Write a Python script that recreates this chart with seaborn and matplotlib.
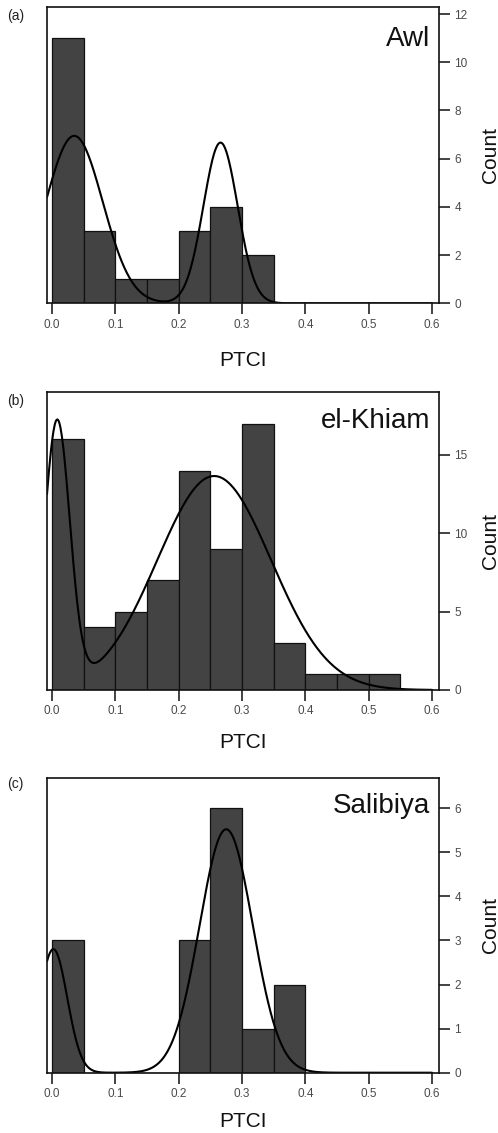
import numpy as np
import pandas as pd
import matplotlib
matplotlib.use("Agg")
import matplotlib.pyplot as plt
import seaborn as sns

# ---------------- data ----------------
sites = ["Awl", "el-Khiam", "Salibiya"]
panel_labels = ["(a)", "(b)", "(c)"]
bin_width = 0.05
bin_edges_awl = [0.00, 0.05, 0.10, 0.15, 0.20, 0.25, 0.30, 0.35]
bin_edges_khiam = [0.00, 0.05, 0.10, 0.15, 0.20, 0.25, 0.30, 0.35, 0.40, 0.45, 0.50, 0.55]
bin_edges_salibiya = [0.00, 0.05, 0.10, 0.15, 0.20, 0.25, 0.30, 0.35, 0.40]
counts_awl = [11, 3, 1, 1, 3, 4, 2]
counts_khiam = [16, 4, 5, 7, 14, 9, 17, 3, 1, 1, 1]
counts_salibiya = [3, 0, 0, 0, 3, 6, 1, 2]

# fitted two-component normal mixtures (means, sds, weights)
means_awl = [0.035, 0.266]
sds_awl = [0.045, 0.027]
weights_awl = [0.627, 0.361]
means_khiam = [0.008, 0.256]
sds_khiam = [0.020, 0.090]
weights_khiam = [0.218, 0.790]
means_salibiya = [0.002, 0.275]
sds_salibiya = [0.022, 0.042]
weights_salibiya = [0.206, 0.775]

x_ticks = [0.0, 0.1, 0.2, 0.3, 0.4, 0.5, 0.6]
x_ticklabels = ["0.0", "0.1", "0.2", "0.3", "0.4", "0.5", "0.6"]
y_ticks_awl = [0, 2, 4, 6, 8, 10, 12]
y_ticks_khiam = [0, 5, 10, 15]
y_ticks_salibiya = [0, 1, 2, 3, 4, 5, 6]
y_max = [12.28, 19.0, 6.69]

edges_all = [bin_edges_awl, bin_edges_khiam, bin_edges_salibiya]
counts_all = [counts_awl, counts_khiam, counts_salibiya]
mix_all = [(means_awl, sds_awl, weights_awl),
           (means_khiam, sds_khiam, weights_khiam),
           (means_salibiya, sds_salibiya, weights_salibiya)]
yticks_all = [y_ticks_awl, y_ticks_khiam, y_ticks_salibiya]

# ---------------- style ----------------
sns.set_style("ticks")
plt.rcParams['font.family'] = ['Liberation Sans', 'DejaVu Sans']

W, H = 498, 1133
fig = plt.figure(figsize=(W / 100, H / 100), dpi=100)

# axes boxes in pixels: (top, bottom)
boxes = [(7.3, 303.3), (392.3, 690.0), (777.7, 1072.7)]
left_px, right_px = 47, 439
xlabel_off = [57, 52, 49]
label_off = [8.5, 8.7, 6.3]
name_base_off = [38.7, 35.7, 35.0]

bar_color = "#434343"
tick_gray = "#4a4a4a"

for i in range(3):
    top, bot = boxes[i]
    hpx = bot - top
    wpx = right_px - left_px
    ax = fig.add_axes([left_px / W, 1 - bot / H, wpx / W, hpx / H])

    edges = list(edges_all[i])
    counts = list(counts_all[i])
    centers = [(a + b) / 2 for a, b in zip(edges[:-1], edges[1:])]
    df = pd.DataFrame({"PTCI": centers, "count": counts})
    sns.histplot(data=df, x="PTCI", weights="count", bins=edges, ax=ax,
                 color=bar_color, edgecolor="#111111", linewidth=0.9, alpha=1)

    means, sds, wts = mix_all[i]
    n = sum(counts)
    xlim = (-0.008, 0.611)
    grid = np.linspace(xlim[0], 0.6, 600)
    dens = np.zeros_like(grid)
    for m, s, w in zip(means, sds, wts):
        dens += w * np.exp(-0.5 * ((grid - m) / s) ** 2) / (s * np.sqrt(2 * np.pi))
    curve = dens * n * bin_width
    sns.lineplot(x=grid, y=curve, ax=ax, color="black", linewidth=1.5)

    ax.set_xlim(*xlim)
    ax.set_ylim(0, y_max[i])
    ax.set_xticks(x_ticks)
    ax.set_xticklabels(x_ticklabels)
    ax.set_yticks(yticks_all[i])
    ax.yaxis.tick_right()
    ax.yaxis.set_label_position("right")
    ax.tick_params(axis="both", direction="out", length=8, width=1.2,
                   color="#222222", labelsize=8.5, labelcolor=tick_gray, pad=3)
    for sp in ax.spines.values():
        sp.set_visible(True)
        sp.set_linewidth(1.2)
        sp.set_color("#111111")

    ax.set_xlabel("PTCI", fontsize=15, color="#111111")
    ax.xaxis.set_label_coords(0.5, -xlabel_off[i] / hpx)
    ax.xaxis.label.set_va("center")
    ax.set_ylabel("Count", fontsize=15, color="#111111")
    ax.yaxis.set_label_coords(1 + 51 / wpx, 0.5)
    ax.yaxis.label.set_va("center")
    ax.yaxis.label.set_ha("center")

    ax.text((430 - left_px) / wpx, 1 - name_base_off[i] / hpx, sites[i],
            transform=ax.transAxes, ha="right", va="baseline",
            fontsize=20, color="#111111")
    fig.text(7.3 / W, 1 - (top + label_off[i]) / H, panel_labels[i],
             ha="left", va="center", fontsize=10, color="#222222")

fig.savefig("out.png", dpi=100)
